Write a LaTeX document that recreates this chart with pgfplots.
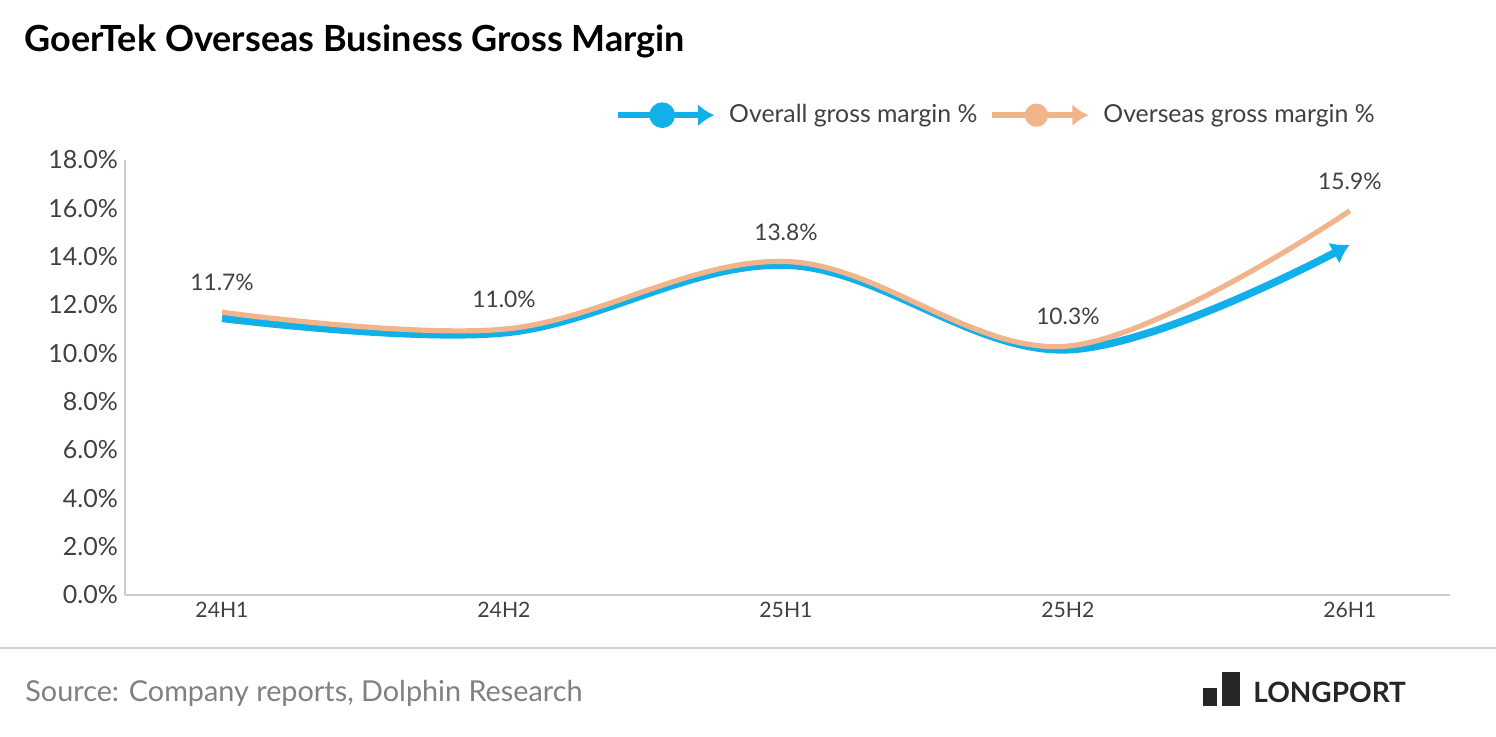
\documentclass[border=0pt]{standalone}
\usepackage{pgfplots}
\pgfplotsset{compat=1.18}
\usepackage{fontspec}
\setmainfont{Lato}
\usetikzlibrary{arrows.meta}
\definecolor{cblue}{HTML}{12B0EA}
\definecolor{corange}{HTML}{F2B48A}
\definecolor{gtxt}{HTML}{404040}
\begin{document}
\begin{tikzpicture}
\begin{scope}[x=0.5pt,y=-0.5pt,shift={(0pt,368pt)}]
\path[use as bounding box] (0,0) rectangle (1496,736);
\node[anchor=west,font=\fontsize{18}{21}\selectfont\bfseries,inner sep=0pt] at (24,41) {GoerTek Overseas Business Gross Margin};
\draw[gray!35,line width=1pt] (0,648) -- (1496,648);
\node[anchor=west,text=gray,font=\fontsize{14.4}{17}\selectfont,inner sep=0pt] at (25,693) {Source: Company reports, Dolphin Research};
\fill[black!85] (1203,688) rectangle (1217,706);
\fill[black!85] (1222,672) rectangle (1240,706);
\node[anchor=west,font=\fontsize{14}{17}\selectfont\bfseries,text=black!85,inner sep=0pt] at (1253,692) {LONGPORT};
\end{scope}
\begin{axis}[at={(62.5pt,70.5pt)},anchor=south west,scale only axis,
 width=662.5pt,height=217.5pt,
 xmin=-0.344,xmax=4.355,ymin=0,ymax=18,
 xtick={0,1,2,3,4},xticklabels={24H1,24H2,25H1,25H2,26H1},
 ytick={0,2,...,18},
 yticklabel={\pgfmathprintnumber[fixed,fixed zerofill,precision=1]{\tick}\%},
 /pgf/number format/assume math mode=true,
 tick label style={text=gtxt},
 xticklabel style={font=\fontsize{10.6}{12}\selectfont},
 yticklabel style={font=\fontsize{12.5}{14}\selectfont},
 axis line style={gray!40,line width=1pt},
 axis x line=bottom, axis y line=left, x axis line style={-}, y axis line style={-},
 major tick length=0pt,
 legend columns=2,
 legend style={at={(axis description cs:0.951,1.103)},anchor=east,draw=none,fill=none,
   font=\fontsize{12.4}{14}\selectfont,text=gtxt,column sep=4pt},
 clip=false]
\addplot[cblue,line width=3.8pt,smooth,tension=0.6,-{Latex[length=9pt,width=12pt]},
 legend image code/.code={\draw[cblue,line width=3pt,-{Latex[length=8pt,width=11pt]}] (-4pt,0pt) -- (44pt,0pt); \fill[cblue] (18pt,0pt) circle (4.5pt);}]
 coordinates {(0,11.45) (1,10.85) (2,13.65) (3,10.15) (4,14.5)};
\addlegendentry{Overall gross margin \%}
\addplot[corange,line width=2.6pt,smooth,tension=0.6,
 nodes near coords={\pgfmathprintnumber[fixed,fixed zerofill,precision=1]{\pgfplotspointmeta}\%},
 nodes near coords style={text=gtxt,font=\fontsize{11.4}{13}\selectfont,yshift=6pt},
 legend image code/.code={\draw[corange,line width=3pt,-{Latex[length=8pt,width=11pt]}] (-4pt,0pt) -- (44pt,0pt); \fill[corange] (18pt,0pt) circle (4.5pt);}]
 coordinates {(0,11.7) (1,11.0) (2,13.8) (3,10.3) (4,15.9)};
\addlegendentry{Overseas gross margin \%}
\end{axis}
\end{tikzpicture}
\end{document}
